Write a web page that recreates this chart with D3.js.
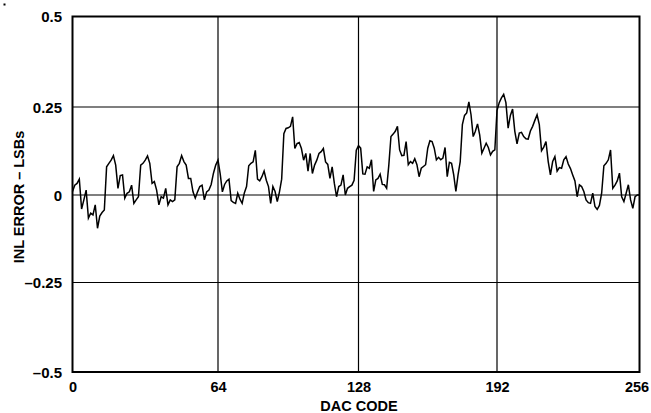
<!DOCTYPE html>
<html>
<head>
<meta charset="utf-8">
<script src="https://cdn.jsdelivr.net/npm/d3@7"></script>
<style>
  html, body { margin: 0; padding: 0; background: #fff; }
  svg { display: block; }
  text { font-family: "Liberation Sans", Arial, Helvetica, sans-serif; font-weight: bold; fill: #000; }
</style>
</head>
<body>
<svg id="chart" width="651" height="413"></svg>
<script>
// DAC codes 0..256 and INL error (LSBs)
const codes = d3.range(0, 257);
const inl = [
  // 0-15
  0.010, 0.028, 0.033, 0.045, -0.040, -0.014, 0.014, -0.066, -0.052, -0.057, -0.028, -0.095, -0.060, -0.050, -0.043, 0.080,
  // 16-31
  0.090, 0.099, 0.112, 0.085, 0.019, 0.055, 0.057, -0.009, 0.005, 0.009, 0.028, -0.024, -0.014, -0.005, 0.085, 0.090,
  // 32-47
  0.099, 0.111, 0.090, 0.033, 0.038, 0.014, -0.028, -0.005, -0.009, 0.019, -0.028, -0.014, -0.019, -0.014, 0.080, 0.090,
  // 48-63
  0.112, 0.095, 0.085, 0.047, 0.047, 0.009, -0.009, 0.009, 0.024, 0.028, -0.014, 0.009, 0.014, 0.030, 0.062, 0.085,
  // 64-79
  0.099, 0.060, 0.009, 0.030, 0.040, 0.045, -0.016, -0.021, -0.024, 0.005, -0.012, -0.024, 0.006, 0.024, 0.083, 0.090,
  // 80-95
  0.094, 0.127, 0.045, 0.040, 0.052, 0.068, 0.042, 0.024, -0.024, 0.024, 0.010, -0.019, 0.009, 0.045, 0.174, 0.189,
  // 96-111
  0.191, 0.195, 0.222, 0.132, 0.146, 0.149, 0.132, 0.099, 0.118, 0.068, 0.118, 0.061, 0.085, 0.099, 0.118, 0.123,
  // 112-127
  0.132, 0.094, 0.087, 0.047, 0.080, 0.033, -0.005, 0.024, 0.028, 0.057, 0.000, 0.019, 0.024, 0.028, 0.042, 0.127,
  // 128-143
  0.140, 0.133, 0.060, 0.059, 0.080, 0.076, 0.100, 0.010, 0.043, 0.047, 0.059, 0.030, 0.029, 0.019, 0.084, 0.166,
  // 144-159
  0.173, 0.181, 0.195, 0.128, 0.112, 0.113, 0.152, 0.086, 0.095, 0.090, 0.103, 0.086, 0.052, 0.076, 0.081, 0.086,
  // 160-175
  0.133, 0.154, 0.152, 0.133, 0.100, 0.107, 0.100, 0.105, 0.135, 0.052, 0.093, 0.090, 0.057, 0.010, 0.057, 0.095,
  // 176-191
  0.200, 0.226, 0.233, 0.264, 0.228, 0.166, 0.181, 0.202, 0.171, 0.119, 0.133, 0.147, 0.135, 0.114, 0.124, 0.128,
  // 192-207
  0.240, 0.262, 0.275, 0.285, 0.262, 0.190, 0.226, 0.244, 0.181, 0.145, 0.176, 0.178, 0.166, 0.160, 0.159, 0.182,
  // 208-223
  0.195, 0.212, 0.228, 0.200, 0.126, 0.136, 0.152, 0.095, 0.057, 0.095, 0.109, 0.068, 0.078, 0.076, 0.100, 0.109,
  // 224-239
  0.088, 0.075, 0.057, 0.040, -0.005, 0.029, 0.024, 0.010, -0.014, -0.022, -0.024, 0.005, -0.033, -0.041, -0.030, 0.005,
  // 240-255
  0.083, 0.090, 0.100, 0.128, 0.019, 0.028, 0.040, 0.062, -0.005, -0.019, 0.005, 0.029, -0.014, -0.038, -0.005, 0.000,
  // 256
  0.000
];
const xTicks = [0, 64, 128, 192, 256];
const xTickLabels = ["0", "64", "128", "192", "256"];
const yTicks = [-0.5, -0.25, 0, 0.25, 0.5];
const yTickLabels = ["\u20130.5", "\u20130.25", "0", "0.25", "0.5"];
const xTitle = "DAC CODE";
const yTitle = "INL ERROR \u2013 LSBs";

const svg = d3.select("#chart");

// Scales (piecewise to follow the slightly uneven grid of the scanned original)
const x = d3.scaleLinear().domain(xTicks).range([72.5, 218, 358.5, 497, 639.5]);
const y = d3.scaleLinear().domain(yTicks).range([372, 282.5, 195, 107, 16.5]);

// Grid lines
svg.append("g").selectAll("line.v").data(xTicks.slice(1, -1)).join("line")
  .attr("x1", d => x(d)).attr("x2", d => x(d))
  .attr("y1", y(0.5)).attr("y2", y(-0.5))
  .attr("stroke", "#000").attr("stroke-width", 1.2);
svg.append("g").selectAll("line.h").data(yTicks.slice(1, -1)).join("line")
  .attr("x1", x(0)).attr("x2", x(256))
  .attr("y1", d => y(d)).attr("y2", d => y(d))
  .attr("stroke", "#000").attr("stroke-width", 1.2);

// Data line
const line = d3.line().x((d, i) => x(codes[i])).y(d => y(d));
svg.append("path").datum(inl)
  .attr("d", line)
  .attr("fill", "none").attr("stroke", "#000").attr("stroke-width", 1.5)
  .attr("stroke-linejoin", "miter");

// Frame
svg.append("rect")
  .attr("x", x(0)).attr("y", y(0.5))
  .attr("width", x(256) - x(0)).attr("height", y(-0.5) - y(0.5))
  .attr("fill", "none").attr("stroke", "#000").attr("stroke-width", 2);

// Axes (labels only, via d3 axis)
const xAxis = d3.axisBottom(x).tickValues(xTicks).tickFormat((d, i) => xTickLabels[i]).tickSize(0).tickPadding(0);
const gx = svg.append("g").attr("transform", `translate(0, ${y(-0.5)})`).call(xAxis);
gx.select(".domain").remove();
gx.selectAll("text").attr("font-size", 14.5).attr("font-family", null).attr("dy", null).attr("y", 19.5)
  .attr("dx", d => d === 256 ? -3 : 0)
  .style("font-family", '"Liberation Sans", Arial, sans-serif').style("font-weight", "bold");

const yAxis = d3.axisLeft(y).tickValues(yTicks).tickFormat((d, i) => yTickLabels[i]).tickSize(0).tickPadding(0);
const gy = svg.append("g").attr("transform", `translate(${x(0)}, 0)`).call(yAxis);
gy.select(".domain").remove();
gy.selectAll("text").attr("font-size", 15).attr("font-family", null).attr("dy", "0.36em").attr("x", -10.5)
  .style("font-family", '"Liberation Sans", Arial, sans-serif').style("font-weight", "bold");

// Titles
svg.append("text").attr("x", 359).attr("y", 411).attr("text-anchor", "middle")
  .attr("font-size", 14.5).text(xTitle);
svg.append("text").attr("transform", "translate(24,197) rotate(-90)").attr("text-anchor", "middle")
  .attr("font-size", 14.5).text(yTitle);

// small scan speck at top-left
svg.append("rect").attr("x", 3.5).attr("y", 3.5).attr("width", 2).attr("height", 2).attr("fill", "#000");
</script>
</body>
</html>
